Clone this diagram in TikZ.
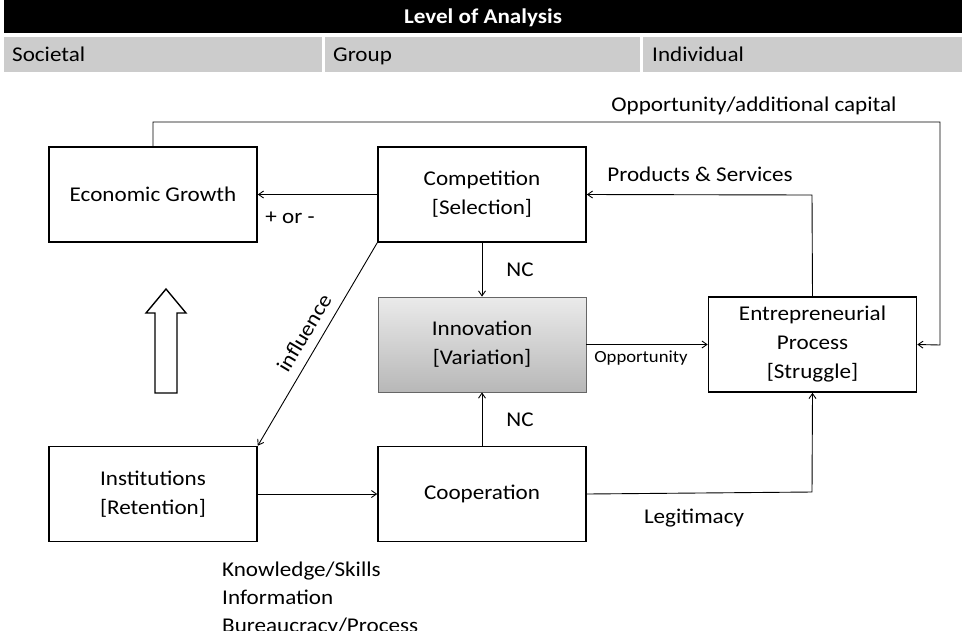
\documentclass[tikz,border=0pt]{standalone}
\usepackage{fontspec}
\setmainfont[FakeStretch=1.1]{Carlito}
\usetikzlibrary{arrows.meta}
\begin{document}
\begin{tikzpicture}[x=1pt,y=-1pt,
  box/.style={draw,line width=1.6pt,minimum width=208pt,minimum height=95pt,align=center,font=\fontsize{21}{29}\selectfont,inner sep=0pt},
  lbl/.style={font=\fontsize{21}{28}\selectfont,inner sep=0pt},
  arr/.style={-{Straight Barb[length=5pt,width=7pt]},line width=0.9pt}]
\useasboundingbox (0,0) rectangle (966,630);
\clip (0,0) rectangle (966,630);
\fill[white] (0,0) rectangle (966,630);
\fill[black] (4,0) rectangle (962,33);
\node[font=\bfseries\fontsize{21}{22}\selectfont,text=white,anchor=base] (hdr) at (483,23) {Level of Analysis};
\fill[black!20] (4,37) rectangle (322,72);
\fill[black!20] (325,37) rectangle (640,72);
\fill[black!20] (643,37) rectangle (962,72);
\node[lbl,anchor=base west] (soc) at (12,61) {Societal};
\node[lbl,anchor=base west] (grp) at (333,61) {Group};
\node[lbl,anchor=base west] (ind) at (652,61) {Individual};

\node[box] (eg) at (153,194.5) {Economic Growth};
\node[box] (comp) at (482,194.5) {Competition\\{}[Selection]};
\node[box,top color=black!8,bottom color=black!28,draw=black!60,line width=0.8pt] (inn) at (482,344.5) {Innovation\\{}[Variation]};
\node[box] (ent) at (812.5,344.5) {Entrepreneurial\\Process\\{}[Struggle]};
\node[box] (inst) at (153,494) {Institutions\\{}[Retention]};
\node[box] (coop) at (482,494) {Cooperation};

\coordinate (c1) at (153,122);
\coordinate (c2) at (940,122);
\coordinate (c3) at (940,345);
\draw[arr] (eg.north) -- (c1) -- (c2) -- (c3) -- (ent.east);
\node[lbl] (l1) at (754,106) {Opportunity/additional capital};
\coordinate (c4) at (812,195);
\draw[arr] (ent.north) -- (c4) -- (comp.east);
\node[lbl] (l2) at (700,174) {Products \& Services};
\draw[arr] (comp.west) -- (eg.east);
\node[lbl] (l3) at (290,218) {+ or -};
\draw[arr] (comp.south) -- (inn.north);
\node[lbl] (l4) at (520,270) {NC};
\draw[arr] (coop.north) -- (inn.south);
\node[lbl] (l5) at (520,420) {NC};
\draw[arr] (inn.east) -- (ent.west);
\node[font=\fontsize{17}{18}\selectfont,inner sep=0pt] (l6) at (641,358) {Opportunity};
\draw[arr] (comp.south west) -- (inst.north east);
\node[lbl,rotate=59] (l7) at (304,333) {influence};
\draw[arr] (inst.east) -- (coop.west);
\coordinate (c5) at (812,492);
\draw[arr] (coop.east) -- (c5) -- (ent.south);
\node[lbl] (l8) at (694,518) {Legitimacy};

\draw[line width=1.4pt,fill=white] (155,393) -- (155,313) -- (146,313) -- (166,289) -- (186,313) -- (177,313) -- (177,393) -- cycle;

\node[lbl,anchor=north west,align=left] (bt) at (222,562) {Knowledge/Skills\\Information\\Bureaucracy/Process};
\end{tikzpicture}
\end{document}
